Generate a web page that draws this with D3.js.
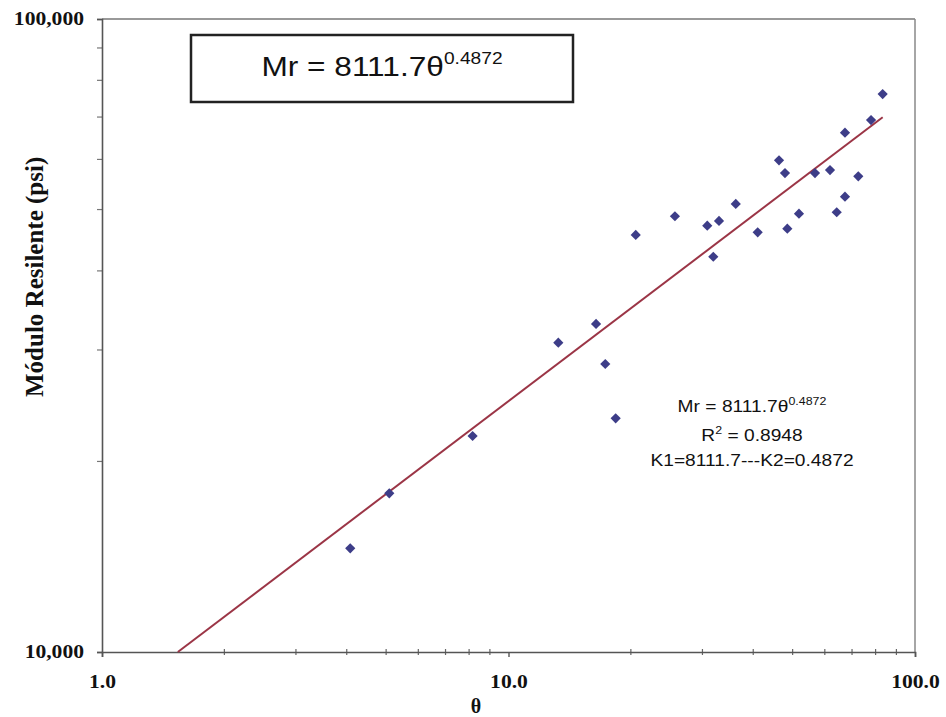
<!DOCTYPE html>
<html>
<head>
<meta charset="utf-8">
<script src="https://cdn.jsdelivr.net/npm/d3@7/dist/d3.min.js"></script>
<style>
  body { margin: 0; background: #fff; }
  svg { display: block; }
  .serif { font-family: "Liberation Serif", "Times New Roman", serif; font-weight: bold; fill: #111; }
  .sans { font-family: "Liberation Sans", Arial, sans-serif; fill: #111; }
</style>
</head>
<body>
<svg id="chart" width="946" height="717"></svg>
<script>
// data
var thetaVals = [4.08, 5.09, 8.16, 13.26, 16.42, 17.30, 18.35, 20.56, 25.67, 30.83, 32.95, 31.90, 36.23,
                 41.02, 46.29, 47.88, 48.52, 51.83, 56.75, 61.79, 67.26, 72.53, 67.26, 64.18, 77.96, 83.27]
var mrVals = [14580, 17810, 21940, 30810, 32980, 28510, 23400, 45590, 48800, 47160, 47970, 42110, 51030,
              46030, 59800, 57100, 46640, 49260, 57100, 57730, 66130, 56420, 52400, 49510, 69240, 76110]
var xTicks = [1, 10, 100]
var xTickLabels = ['1.0', '10.0', '100.0']
var yTicks = [10000, 100000]
var yTickLabels = ['10,000', '100,000']
var K1 = 8111.7, K2 = 0.4872, R2 = 0.8948

var svg = d3.select('#chart')
var plotL = 102, plotR = 915, plotT = 19, plotB = 652
var stretch = 1.2

var x = d3.scaleLog().domain([1, 100]).range([plotL, plotR])
var y = d3.scaleLog().domain([10000, 100000]).range([plotB, plotT])

// frame
svg.append('line').attr('x1', plotL).attr('x2', plotR).attr('y1', plotT).attr('y2', plotT)
    .attr('stroke', '#777').attr('stroke-width', 1.5)
svg.append('line').attr('x1', plotR).attr('x2', plotR).attr('y1', plotT).attr('y2', plotB)
    .attr('stroke', '#888').attr('stroke-width', 1.5)

// minor ticks
var xMinor = [2, 3, 4, 5, 6, 7, 8, 9, 20, 30, 40, 50, 60, 70, 80, 90]
var yMinor = [20000, 30000, 40000, 50000, 60000, 70000, 80000, 90000]
svg.selectAll('.xminor').data(xMinor).enter().append('line')
    .attr('class', 'xminor')
    .attr('x1', d => x(d)).attr('x2', d => x(d))
    .attr('y1', plotB - 3).attr('y2', plotB + 3)
    .attr('stroke', '#666').attr('stroke-width', 1.2)
svg.selectAll('.yminor').data(yMinor).enter().append('line')
    .attr('class', 'yminor')
    .attr('x1', plotL - 5).attr('x2', plotL)
    .attr('y1', d => y(d)).attr('y2', d => y(d))
    .attr('stroke', '#777').attr('stroke-width', 1.2)

// axes
var xAxis = d3.axisBottom(x).tickValues(xTicks).tickSize(5).tickFormat((d, i) => xTickLabels[i])
var yAxis = d3.axisLeft(y).tickValues(yTicks).tickSize(5).tickFormat((d, i) => yTickLabels[i])

var gx = svg.append('g').attr('transform', `translate(0,${plotB})`).call(xAxis)
gx.select('.domain').attr('stroke', '#555').attr('stroke-width', 1.6)
gx.selectAll('.tick line').attr('stroke', '#555').attr('stroke-width', 1.4)
gx.selectAll('.tick text')
    .attr('class', 'serif').attr('font-size', 18)
    .attr('y', 36).attr('dy', 0)
    .attr('transform', `scale(${stretch},1)`)

var gy = svg.append('g').attr('transform', `translate(${plotL},0)`).call(yAxis)
gy.select('.domain').attr('stroke', '#555').attr('stroke-width', 1.6)
gy.selectAll('.tick line').attr('stroke', '#555').attr('stroke-width', 1.4)
gy.selectAll('.tick text')
    .attr('class', 'serif').attr('font-size', 18)
    .attr('x', -15).attr('dy', '0.33em')
    .attr('transform', `scale(${stretch},1)`)

// axis titles
svg.append('text').attr('class', 'serif')
    .attr('x', 476).attr('y', 713).attr('text-anchor', 'middle').attr('font-size', 20)
    .text('θ')
svg.append('text').attr('class', 'serif')
    .attr('transform', 'translate(43,397) rotate(-90)')
    .attr('font-size', 25)
    .text('Módulo Resilente (psi)')

// trend line Mr = K1 * θ^K2
var t0 = Math.pow(y.domain()[0] / K1, 1 / K2)
var t1 = d3.max(thetaVals)
var trend = [t0, t1].map(t => [t, K1 * Math.pow(t, K2)])
svg.append('path')
    .attr('d', d3.line().x(d => x(d[0])).y(d => y(d[1]))(trend))
    .attr('fill', 'none').attr('stroke', '#9b3546').attr('stroke-width', 2)

// points
var pts = thetaVals.map((t, i) => ({ t: t, m: mrVals[i] }))
svg.selectAll('.pt').data(pts).enter().append('path')
    .attr('class', 'pt')
    .attr('d', d3.symbol().type(d3.symbolSquare).size(52))
    .attr('transform', d => `translate(${x(d.t)},${y(d.m)}) rotate(45)`)
    .attr('fill', '#3d3d88')

// equation box
svg.append('rect').attr('x', 191).attr('y', 35).attr('width', 382).attr('height', 67)
    .attr('fill', '#fff').attr('stroke', '#222').attr('stroke-width', 2.5)
var boxText = svg.append('g').attr('transform', `translate(382,76) scale(1.13,1)`)
    .append('text').attr('class', 'sans').attr('text-anchor', 'middle').attr('font-size', 28)
boxText.append('tspan').text('Mr = ' + K1 + 'θ')
boxText.append('tspan').attr('font-size', 17).attr('dy', -12).text(K2)

// trendline label
var lab = svg.append('g').attr('transform', `translate(752,0) scale(1.13,1)`)
var l1 = lab.append('text').attr('class', 'sans').attr('text-anchor', 'middle').attr('font-size', 17).attr('y', 412)
l1.append('tspan').text('Mr = ' + K1 + 'θ')
l1.append('tspan').attr('font-size', 11).attr('dy', -7).text(K2)
var l2 = lab.append('text').attr('class', 'sans').attr('text-anchor', 'middle').attr('font-size', 17).attr('y', 441)
l2.append('tspan').text('R')
l2.append('tspan').attr('font-size', 11).attr('dy', -7).text('2')
l2.append('tspan').attr('dy', 7).text(' = ' + R2)
lab.append('text').attr('class', 'sans').attr('text-anchor', 'middle').attr('font-size', 17).attr('y', 466)
    .text('K1=' + K1 + '---K2=' + K2)
</script>
</body>
</html>
